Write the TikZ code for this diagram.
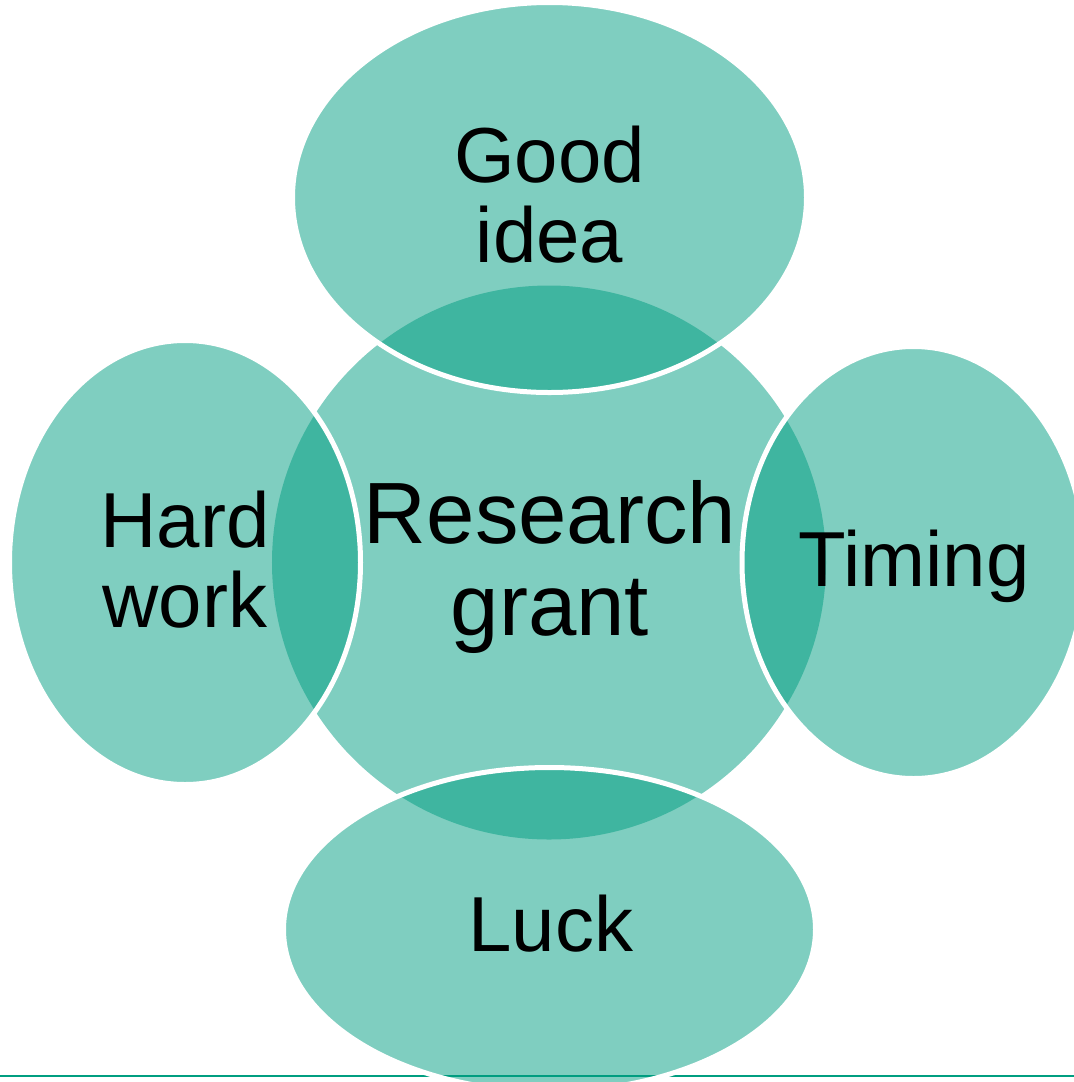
\documentclass[tikz,border=0pt]{standalone}
\usepackage{fontspec}
\setmainfont{Liberation Sans}
\usetikzlibrary{shapes.geometric}
\definecolor{tealbase}{RGB}{0,157,129}
\definecolor{lineteal}{RGB}{0,158,128}
\tikzset{
  blob/.style={shape=ellipse, fill=tealbase, fill opacity=0.5, draw=white, line width=5bp, inner sep=0pt},
  hub/.style={shape=circle, fill=tealbase, fill opacity=0.5, inner sep=0pt},
  lbl/.style={align=center, inner sep=0pt, anchor=base, text=black, font=\fontsize{78bp}{80bp}\selectfont},
  hublbl/.style={align=center, inner sep=0pt, anchor=base, text=black, font=\fontsize{87bp}{92bp}\selectfont}
}
\begin{document}
\begin{tikzpicture}[x=1bp,y=-1bp]
\useasboundingbox (0,0) rectangle (1074,1082);
% bottom rule
\coordinate (rl) at (0,1075.5);
\coordinate (rr) at (1074,1075.5);
\draw[lineteal, line width=2bp] (rl) -- (rr);
% shapes
\node[hub, minimum size=554bp] (hub) at (549,562.5) {};
\node[blob, minimum width=514bp, minimum height=390bp] (top) at (549.5,197.5) {};
\node[blob, minimum width=351bp, minimum height=444bp] (left) at (185,562.5) {};
\node[blob, minimum width=343bp, minimum height=432bp] (right) at (913.5,562.5) {};
\node[blob, minimum width=532bp, minimum height=324bp] (bottom) at (549.5,929.5) {};
% labels (base anchor = baseline of the last line)
\node[lbl] (tgood) at (549.5,262) {Good\\idea};
\node[lbl] (thard) at (185,627) {Hard\\work};
\node[hublbl] (thub) at (550,635) {Research\\grant};
\node[lbl] (ttiming) at (914,586) {Timing};
\node[lbl] (tluck) at (551,951) {Luck};
\end{tikzpicture}
\end{document}
